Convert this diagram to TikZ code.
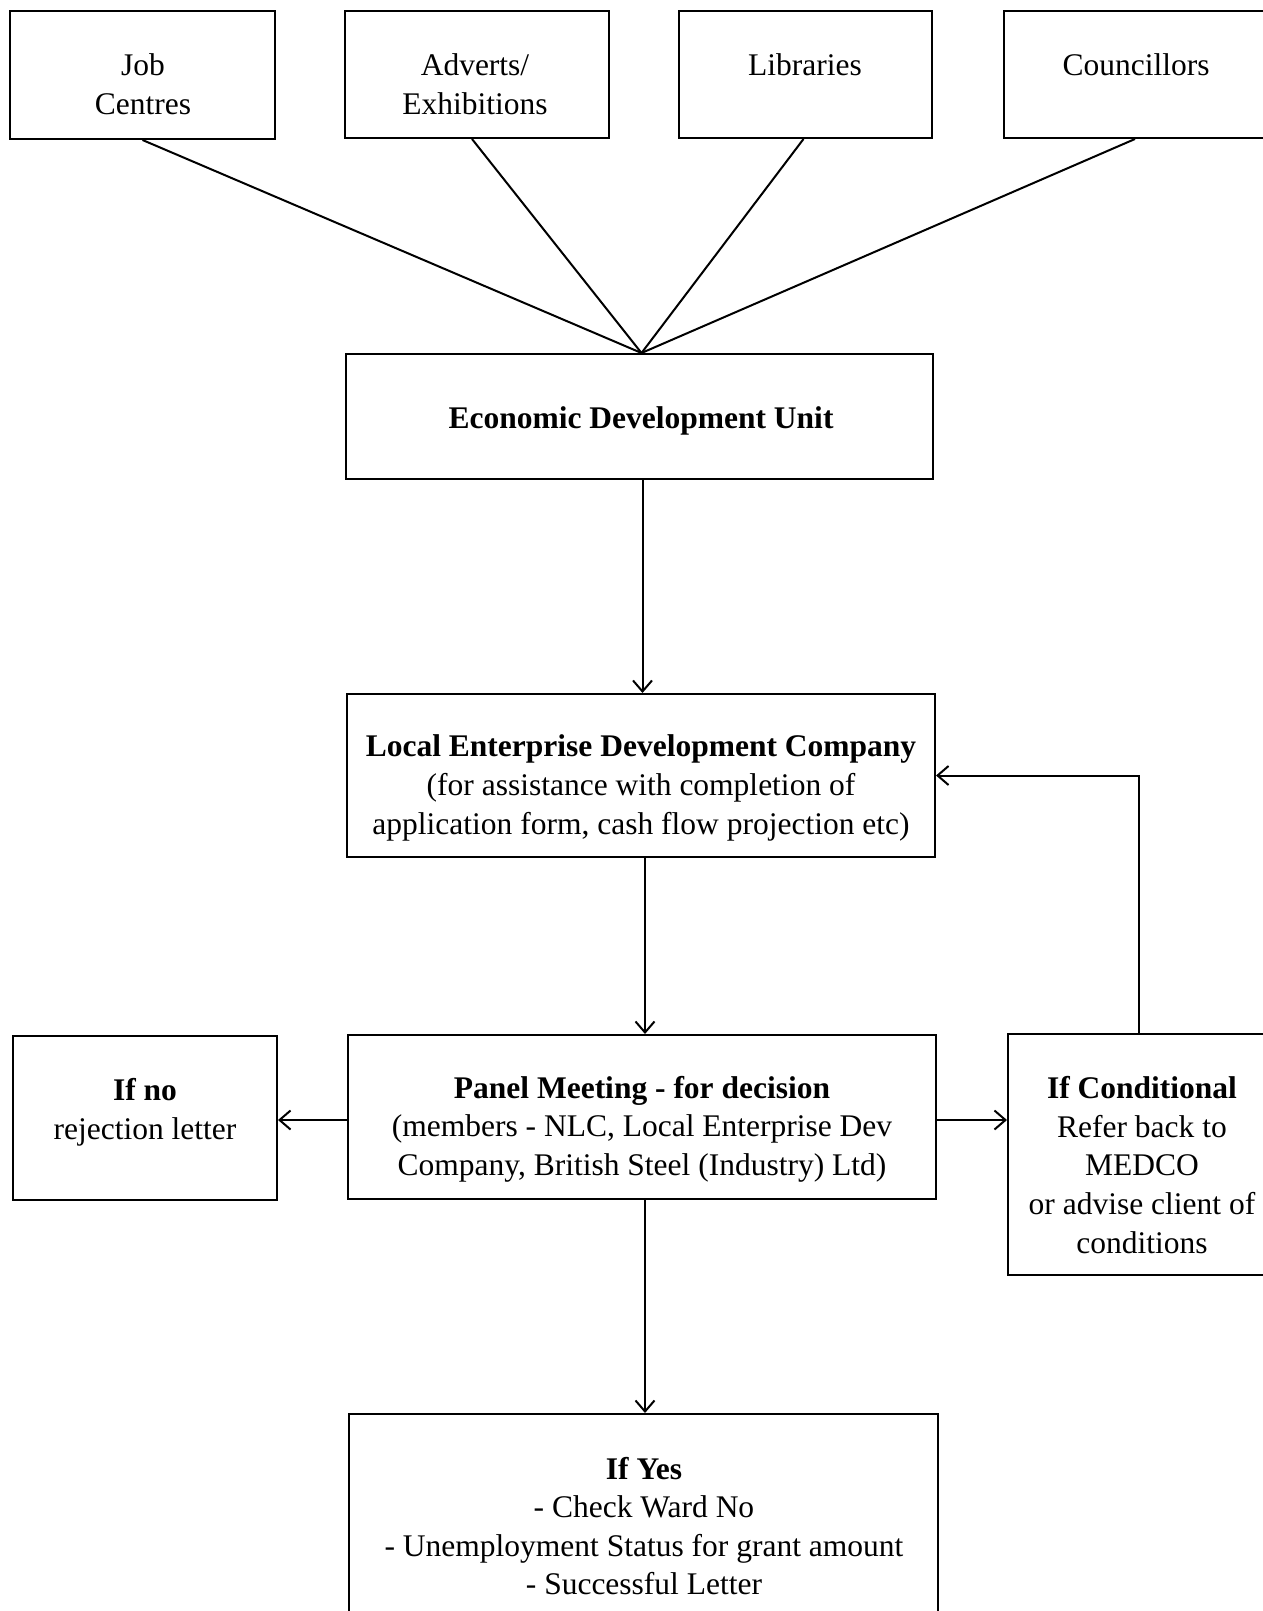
\documentclass[tikz,border=0pt]{standalone}
\usepackage{fontspec}
\setmainfont{Liberation Serif}
\usetikzlibrary{arrows.meta,calc}
\begin{document}
\begin{tikzpicture}[x=1pt,y=-1pt,
  box/.style={draw,line width=2pt,inner sep=0pt},
  txt/.style={align=center,inner sep=0pt,font=\fontsize{31.5}{38.6}\selectfont},
  conn/.style={line width=2pt},
  arr/.style={line width=2pt,-{Straight Barb[length=11pt,width=19pt]}}]
\useasboundingbox (0,0) rectangle (1263,1611);
% boxes
\node[box,minimum width=265pt,minimum height=128pt] (jc) at (142.5,75) {};
\node[box,minimum width=264pt,minimum height=127pt] (adv) at (477,74.5) {};
\node[box,minimum width=253pt,minimum height=127pt] (lib) at (805.5,74.5) {};
\node[box,minimum width=266pt,minimum height=127pt] (cou) at (1137,74.5) {};
\node[box,minimum width=587pt,minimum height=125pt] (edu) at (639.5,416.5) {};
\node[box,minimum width=588pt,minimum height=163pt] (ledc) at (641,775.5) {};
\node[box,minimum width=588pt,minimum height=164pt] (panel) at (642,1117) {};
\node[box,minimum width=264pt,minimum height=164pt] (ifno) at (145,1118) {};
\node[box,minimum width=262pt,minimum height=241pt] (cond) at (1139,1154.5) {};
\node[box,minimum width=589pt,minimum height=206pt] (yes) at (643.5,1517) {};
% texts
\node[txt] (jct) at (143,84) {Job\\Centres};
\node[txt] (advt) at (475,84) {Adverts/\\Exhibitions};
\node[txt] (libt) at (805,65) {Libraries};
\node[txt] (cout) at (1136,65) {Councillors};
\node[txt] (edut) at (641,421) {\textbf{Economic Development Unit}};
\node[txt] (ledct) at (641,788) {\textbf{Local Enterprise Development Company}\\(for assistance with completion of\\application form, cash flow projection etc)};
\node[txt] (ifnot) at (145,1112) {\textbf{If no}\\rejection letter};
\node[txt] (panelt) at (642,1129) {\textbf{Panel Meeting - for decision}\\(members - NLC, Local Enterprise Dev\\Company, British Steel (Industry) Ltd)};
\node[txt] (condt) at (1142,1165) {\textbf{If Conditional}\\Refer back to\\MEDCO\\or advise client of\\conditions};
\node[txt] (yest) at (644,1526) {\textbf{If Yes}\\- Check Ward No\\- Unemployment Status for grant amount\\- Successful Letter};
% connectors
\coordinate (hub) at ([xshift=2pt]edu.north);
\draw[conn] (jc.south) -- (hub);
\draw[conn] ([xshift=-5pt]adv.south) -- (hub);
\draw[conn] ([xshift=-2pt]lib.south) -- (hub);
\draw[conn] ([xshift=-2pt]cou.south) -- (hub);
\draw[arr] ([xshift=3pt]edu.south) -- ([xshift=3pt]edu.south |- ledc.north);
\draw[arr] ([xshift=4pt]ledc.south) -- ([xshift=4pt]ledc.south |- panel.north);
\draw[arr] ([xshift=3pt]panel.south) -- ([xshift=3pt]panel.south |- yes.north);
\draw[arr] ([yshift=-3pt]panel.west) -- ([yshift=-3pt]panel.west -| ifno.east);
\draw[arr] ([yshift=-3pt]panel.east) -- ([yshift=-3pt]panel.east -| cond.west);
\draw[arr] (cond.north) |- (ledc.east);
\end{tikzpicture}
\end{document}
